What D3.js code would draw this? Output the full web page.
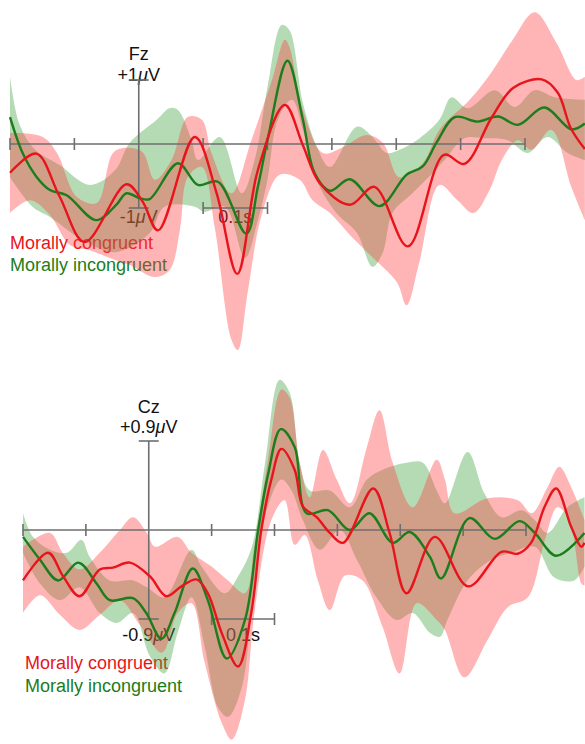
<!DOCTYPE html>
<html><head><meta charset="utf-8">
<script src="https://cdn.jsdelivr.net/npm/d3@7"></script>
<style>body{margin:0;background:#fff}svg{display:block}text{font-family:"Liberation Sans",Arial,sans-serif;font-size:18px}</style>
</head><body><svg id="c" width="585" height="744"></svg>
<script>
// time (ms) ticks
const tickTimes = [-200,-100,0,100,200,300,400,500,600];
const legendLabels = ["Morally congruent","Morally incongruent"];

// ---- Fz (µV), [ms, µV]
const fzCongMean = [[-200,-0.45],[-159,-0.15],[-123,-0.82],[-84,-1.53],[-19,-0.63],[6,-0.90],[30,-1.35],[87,0.11],[121,-0.77],[153,-2.03],[185,-0.41],[227,0.61],[255,-0.02],[281,-0.61],[328,-0.95],[366,-0.67],[418,-1.60],[474,-0.17],[506,-0.31],[548,0.41],[582,0.88],[626,1.01],[651,0.80],[671,0.25],[693,-0.08]];
const fzCongUpper = [[-200,0.17],[-149,0.11],[-127,-0.14],[-96,-0.83],[-65,-0.92],[-40,-0.14],[-19,-0.06],[6,-0.13],[25,-0.56],[51,-0.25],[76,0.42],[98,0.38],[113,-0.14],[144,-0.77],[175,0.06],[207,1.00],[227,1.63],[234,1.52],[255,0.53],[286,-0.14],[317,-0.05],[354,0.14],[379,0.02],[405,-0.52],[441,-0.30],[467,0.22],[514,0.69],[545,1.08],[581,1.63],[615,2.06],[649,1.58],[680,1.00],[693,1.05]];
const fzCongLower = [[-200,-1.08],[-169,-0.88],[-138,-1.11],[-107,-1.58],[-76,-1.66],[-45,-1.78],[-14,-1.89],[25,-2.08],[48,-1.97],[64,-1.34],[76,-0.52],[98,-0.36],[118,-1.30],[144,-3.06],[154,-3.22],[169,-2.33],[191,-1.11],[219,-0.48],[250,-0.56],[270,-0.88],[297,-1.08],[328,-1.42],[359,-1.73],[401,-2.16],[416,-2.52],[436,-1.84],[467,-0.64],[495,-0.88],[520,-1.08],[545,-0.72],[564,-0.25],[589,0.06],[610,-0.09],[641,0.22],[672,-0.67],[693,-1.19]];
const fzIncMean = [[-200,0.42],[-180,-0.15],[-159,-0.51],[-138,-0.72],[-112,-0.80],[-66,-1.19],[-35,-0.95],[-19,-0.77],[2,-0.85],[17,-0.86],[61,-0.30],[92,-0.64],[123,-0.59],[167,-1.40],[185,-0.67],[201,0.11],[231,1.30],[255,0.38],[273,-0.45],[297,-0.73],[328,-0.55],[374,-0.97],[416,-0.48],[441,-0.35],[463,0.03],[491,0.42],[527,0.35],[558,0.43],[589,0.30],[630,0.57],[672,0.23],[693,0.32]];
const fzIncUpper = [[-200,1.05],[-185,0.30],[-161,-0.09],[-123,-0.33],[-76,-0.64],[-37,-0.41],[-14,0.02],[28,0.38],[48,0.56],[61,0.53],[82,0.06],[92,-0.25],[126,0.11],[160,-0.77],[180,-0.25],[200,0.89],[222,1.86],[234,1.78],[255,0.64],[277,-0.05],[297,-0.36],[339,0.27],[363,0.11],[385,-0.14],[405,-0.09],[432,0.06],[467,0.38],[486,0.73],[511,0.56],[553,0.84],[584,0.58],[615,0.84],[646,0.73],[693,0.69]];
const fzIncLower = [[-200,-0.52],[-165,-0.98],[-138,-1.14],[-87,-1.50],[-37,-1.69],[17,-1.39],[40,-0.98],[87,-0.98],[102,-1.06],[134,-0.98],[165,-1.78],[185,-1.19],[200,-0.56],[216,0.38],[238,0.69],[255,0.22],[276,-0.56],[307,-1.08],[339,-1.39],[363,-1.92],[379,-1.70],[394,-1.08],[425,-0.77],[457,-0.45],[475,-0.25],[506,0.09],[537,0.09],[573,0.06],[604,-0.14],[635,0.11],[666,-0.14],[693,-0.25]];

// ---- Cz (µV), [ms, µV]
const czCongMean = [[-200,-0.51],[-160,-0.23],[-136,-0.47],[-110,-0.67],[-78,-0.40],[-57,-0.38],[-30,-0.33],[2,-0.47],[28,-0.67],[52,-0.57],[76,-0.50],[94,-0.64],[116,-1.04],[142,-1.38],[163,-0.84],[179,0.00],[195,0.51],[211,0.82],[232,0.61],[245,0.24],[267,0.13],[288,-0.03],[309,-0.13],[357,0.42],[383,-0.03],[410,-0.64],[455,-0.07],[508,-0.57],[561,-0.22],[587,-0.24],[608,-0.13],[630,0.24],[648,0.42],[672,0.03],[688,-0.17],[693,-0.13]];
const czCongUpper = [[-200,-0.17],[-157,-0.03],[-137,-0.23],[-110,-0.40],[-78,-0.23],[-46,0.00],[-25,0.13],[-3,-0.03],[10,-0.17],[46,-0.07],[68,-0.23],[100,-0.37],[126,-0.51],[153,-0.64],[168,-0.17],[189,0.68],[211,1.42],[224,1.34],[240,0.68],[256,0.33],[277,0.81],[299,0.51],[320,0.27],[347,0.84],[367,1.21],[388,0.68],[420,0.23],[458,0.71],[471,0.51],[486,0.17],[539,0.32],[587,0.30],[609,0.17],[634,0.43],[653,0.64],[672,0.43],[693,0.10]];
const czCongLower = [[-200,-0.84],[-173,-0.66],[-141,-0.86],[-110,-1.01],[-78,-0.86],[-46,-0.71],[-14,-0.96],[21,-1.24],[46,-0.84],[68,-0.74],[89,-1.34],[116,-1.95],[132,-2.12],[153,-1.72],[168,-0.84],[195,0.10],[216,0.30],[232,-0.15],[248,-0.05],[269,-0.51],[288,-0.81],[312,-0.46],[340,-0.51],[372,-0.98],[399,-1.45],[426,-0.74],[458,-0.91],[471,-1.01],[502,-1.49],[539,-1.11],[571,-0.78],[603,-0.68],[630,-0.10],[650,0.23],[669,0.10],[688,-0.54],[693,-0.56]];
const czIncMean = [[-200,-0.07],[-173,-0.30],[-144,-0.51],[-112,-0.33],[-83,-0.54],[-62,-0.71],[-25,-0.69],[-4,-0.84],[20,-1.10],[41,-0.84],[70,-0.39],[94,-0.71],[124,-1.30],[153,-0.91],[174,0.00],[190,0.57],[210,1.02],[232,0.84],[251,0.17],[285,0.20],[320,0.00],[351,0.17],[388,-0.13],[415,-0.02],[447,-0.27],[465,-0.49],[510,0.12],[550,-0.09],[590,0.09],[614,-0.03],[648,-0.26],[693,-0.03]];
const czIncUpper = [[-200,0.17],[-184,-0.07],[-157,-0.20],[-130,-0.23],[-107,-0.10],[-94,-0.27],[-62,-0.51],[-25,-0.51],[-3,-0.58],[25,-0.68],[68,-0.20],[84,-0.37],[121,-0.64],[141,-0.48],[164,-0.17],[185,0.68],[208,1.52],[224,1.39],[240,0.68],[256,0.40],[288,0.40],[320,0.23],[347,0.51],[372,0.61],[410,0.68],[436,0.68],[458,0.40],[471,0.27],[507,0.79],[534,0.37],[561,0.13],[593,0.20],[614,0.10],[634,-0.03],[666,0.23],[693,0.33]];
const czIncLower = [[-200,-0.23],[-173,-0.54],[-141,-0.71],[-110,-0.58],[-78,-0.84],[-51,-0.94],[-25,-0.84],[2,-1.28],[25,-1.45],[46,-1.04],[68,-0.68],[89,-1.18],[110,-1.79],[126,-1.89],[148,-1.59],[168,-0.51],[189,0.23],[211,0.51],[227,0.40],[245,0.10],[272,-0.20],[304,0.00],[331,-0.30],[362,-0.68],[394,-0.91],[420,-0.84],[447,-1.04],[463,-1.08],[475,-0.91],[507,-0.51],[545,-0.30],[577,-0.23],[614,-0.17],[645,-0.48],[677,-0.51],[693,-0.37]];

const panels = [
  {name:"Fz", unit:1, xRange:[10,525], y0:144, yTop:80,
   cm:fzCongMean, cu:fzCongUpper, cl:fzCongLower, im:fzIncMean, iu:fzIncUpper, il:fzIncLower,
   nameY:60, topLabY:81, botLabY:223, legX:10, legY:[249,271], topLab:"+1", botLab:"-1"},
  {name:"Cz", unit:0.9, xRange:[23,526], y0:530, yTop:441,
   cm:czCongMean, cu:czCongUpper, cl:czCongLower, im:czIncMean, iu:czIncUpper, il:czIncLower,
   nameY:413, topLabY:433, botLabY:641, legX:25, legY:[669,692], topLab:"+0.9", botLab:"-0.9"}
];

const RED="#e8141c", GREEN="#1b7d1b", AX="#6e6e6e";
const svg = d3.select("#c");

panels.forEach(p=>{
  const x = d3.scaleLinear().domain([-200,600]).range(p.xRange);
  const y = d3.scaleLinear().domain([0,p.unit]).range([p.y0,p.yTop]);
  const g = svg.append("g");
  const line = d3.line().x(d=>x(d[0])).y(d=>y(d[1])).curve(d3.curveCatmullRom.alpha(0.5));
  const band = (u,l)=> line(u) + "L" + line(l.slice().reverse()).slice(1) + "Z";

  // text (under bands)
  const x0 = x(0);
  g.append("text").attr("x",x0).attr("y",p.nameY).attr("text-anchor","middle").attr("fill","#111").attr("font-size",17).text(p.name);
  const mu = (t,yy,xx)=>{const e=g.append("text").attr("x",xx).attr("y",yy).attr("text-anchor","middle").attr("fill","#111").attr("font-size",17);
    e.append("tspan").text(t); e.append("tspan").attr("font-style","italic").text("\u03bc"); e.append("tspan").text("V");};
  mu(p.topLab, p.topLabY, x0);
  mu(p.botLab, p.botLabY, x0);
  g.append("text").attr("x",(x(100)+x(200))/2).attr("y",p.botLabY).attr("text-anchor","middle").attr("fill","#111").attr("font-size",17).text("0.1s");
  g.append("text").attr("x",p.legX).attr("y",p.legY[0]).attr("fill",RED).text(legendLabels[0]);
  g.append("text").attr("x",p.legX).attr("y",p.legY[1]).attr("fill",GREEN).text(legendLabels[1]);

  // bands
  g.append("path").attr("d",band(p.iu,p.il)).attr("fill","rgb(60,160,60)").attr("fill-opacity",0.38);
  g.append("path").attr("d",band(p.cu,p.cl)).attr("fill","rgb(255,60,60)").attr("fill-opacity",0.38);

  // axes
  const ax = g.append("g").attr("stroke",AX).attr("stroke-width",1.6).attr("fill","none");
  ax.append("line").attr("x1",x(-200)).attr("x2",x(600)).attr("y1",y(0)).attr("y2",y(0));
  ax.selectAll("line.t").data(tickTimes.filter(t=>t!==0)).join("line").attr("class","t")
    .attr("x1",d=>x(d)).attr("x2",d=>x(d)).attr("y1",y(0)-6).attr("y2",y(0)+6);
  ax.append("line").attr("x1",x0).attr("x2",x0).attr("y1",y(p.unit)).attr("y2",y(-p.unit));
  ax.append("line").attr("x1",x0-10).attr("x2",x0+10).attr("y1",y(p.unit)).attr("y2",y(p.unit));
  ax.append("line").attr("x1",x0-10).attr("x2",x0+10).attr("y1",y(-p.unit)).attr("y2",y(-p.unit));
  ax.append("line").attr("x1",x(100)).attr("x2",x(200)).attr("y1",y(-p.unit)).attr("y2",y(-p.unit));
  [100,200].forEach(t=>ax.append("line").attr("x1",x(t)).attr("x2",x(t)).attr("y1",y(-p.unit)-6).attr("y2",y(-p.unit)+6));

  // means
  g.append("path").attr("d",line(p.im)).attr("fill","none").attr("stroke",GREEN).attr("stroke-width",2.4);
  g.append("path").attr("d",line(p.cm)).attr("fill","none").attr("stroke",RED).attr("stroke-width",2.4);
});
</script></body></html>
